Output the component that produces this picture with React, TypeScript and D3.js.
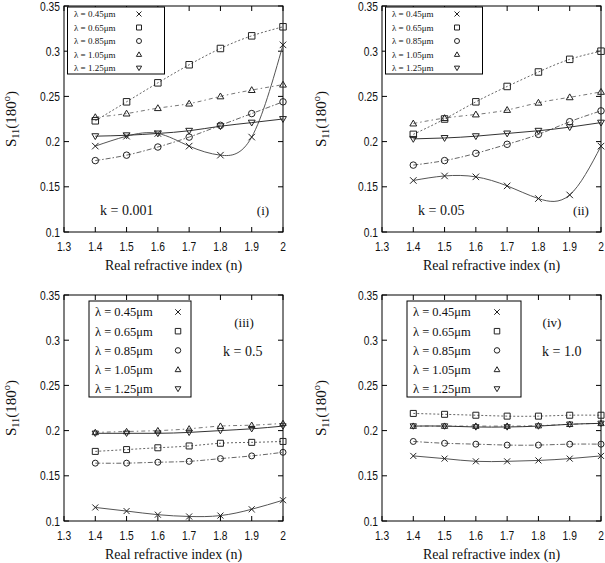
import React from "react";
import * as d3 from "d3";

// ---- data ----
const refractiveIndex = [1.4, 1.5, 1.6, 1.7, 1.8, 1.9, 2.0];
const wavelengthLabels = ["λ = 0.45μm", "λ = 0.65μm", "λ = 0.85μm", "λ = 1.05μm", "λ = 1.25μm"];
const xTickValues = [1.3, 1.4, 1.5, 1.6, 1.7, 1.8, 1.9, 2.0];
const yTickValues = [0.1, 0.15, 0.2, 0.25, 0.3, 0.35];
const kLabels = ["k = 0.001", "k = 0.05", "k = 0.5", "k = 1.0"];
const panelTags = ["(i)", "(ii)", "(iii)", "(iv)"];

// k = 0.001
const k0001_045 = [0.195, 0.206, 0.209, 0.195, 0.185, 0.205, 0.307];
const k0001_065 = [0.223, 0.244, 0.265, 0.285, 0.303, 0.317, 0.327];
const k0001_085 = [0.179, 0.185, 0.194, 0.205, 0.218, 0.231, 0.244];
const k0001_105 = [0.227, 0.231, 0.237, 0.242, 0.25, 0.257, 0.263];
const k0001_125 = [0.206, 0.207, 0.209, 0.212, 0.217, 0.221, 0.225];
// k = 0.05
const k005_045 = [0.157, 0.162, 0.161, 0.151, 0.137, 0.141, 0.195];
const k005_065 = [0.208, 0.225, 0.244, 0.261, 0.277, 0.291, 0.3];
const k005_085 = [0.174, 0.179, 0.187, 0.197, 0.208, 0.222, 0.234];
const k005_105 = [0.22, 0.226, 0.23, 0.235, 0.243, 0.249, 0.255];
const k005_125 = [0.203, 0.204, 0.206, 0.209, 0.212, 0.216, 0.221];
// k = 0.5
const k05_045 = [0.115, 0.111, 0.107, 0.105, 0.106, 0.113, 0.123];
const k05_065 = [0.177, 0.179, 0.181, 0.183, 0.186, 0.187, 0.188];
const k05_085 = [0.164, 0.164, 0.165, 0.166, 0.169, 0.172, 0.176];
const k05_105 = [0.198, 0.199, 0.2, 0.202, 0.205, 0.206, 0.208];
const k05_125 = [0.197, 0.197, 0.197, 0.198, 0.2, 0.202, 0.205];
// k = 1.0
const k10_045 = [0.172, 0.169, 0.166, 0.166, 0.167, 0.169, 0.172];
const k10_065 = [0.219, 0.218, 0.217, 0.216, 0.216, 0.217, 0.217];
const k10_085 = [0.188, 0.186, 0.185, 0.184, 0.184, 0.185, 0.185];
const k10_105 = [0.205, 0.205, 0.205, 0.205, 0.2055, 0.207, 0.208];
const k10_125 = [0.205, 0.205, 0.204, 0.204, 0.205, 0.207, 0.208];

const panelSeries = [
  [k0001_045, k0001_065, k0001_085, k0001_105, k0001_125],
  [k005_045, k005_065, k005_085, k005_105, k005_125],
  [k05_045, k05_065, k05_085, k05_105, k05_125],
  [k10_045, k10_065, k10_085, k10_105, k10_125],
];

// ---- styling / layout ----
const seriesStyle = [
  { marker: "cross", dash: undefined, stroke: "#555" },
  { marker: "square", dash: "2,2", stroke: "#666" },
  { marker: "circle", dash: "5,2,1.5,2", stroke: "#666" },
  { marker: "triUp", dash: "4,3,1.5,3", stroke: "#777" },
  { marker: "triDown", dash: undefined, stroke: "#333" },
];

const layouts = [
  { x0: 64, x1: 283, y0: 6, y1: 232, titleX: 16, small: true, legW: 97, legMx: 75,
    kx: 100, ky: 215, tagX: 263, tagY: 215 },
  { x0: 382, x1: 601, y0: 6, y1: 232, titleX: 326, small: true, legW: 97, legMx: 75,
    kx: 418, ky: 215, tagX: 581, tagY: 215 },
  { x0: 64, x1: 283, y0: 295, y1: 521, titleX: 16, small: false, legW: 102, legMx: 114,
    kx: 223, ky: 356, tagX: 244, tagY: 327 },
  { x0: 382, x1: 601, y0: 295, y1: 521, titleX: 326, small: false, legW: 114, legMx: 115,
    kx: 542, ky: 356, tagX: 552, tagY: 327 },
];

const serif = "'Liberation Serif', 'Times New Roman', serif";
const sans = "'Liberation Sans', Arial, sans-serif";

function markerPath(kind: string, s: number): string {
  const h = s / 2;
  switch (kind) {
    case "cross":
      return `M${-h},${-h}L${h},${h}M${-h},${h}L${h},${-h}`;
    case "square":
      return `M${-h},${-h}H${h}V${h}H${-h}Z`;
    case "circle":
      return `M${h},0A${h},${h} 0 1,1 ${-h},0A${h},${h} 0 1,1 ${h},0Z`;
    case "triUp":
      return `M0,${-h * 1.05}L${h * 1.05},${h * 0.75}L${-h * 1.05},${h * 0.75}Z`;
    case "triDown":
      return `M0,${h * 1.05}L${h * 1.05},${-h * 0.75}L${-h * 1.05},${-h * 0.75}Z`;
  }
  return "";
}

function Panel({ idx }: { idx: number }) {
  const L = layouts[idx];
  const series = panelSeries[idx];
  const x = d3.scaleLinear().domain([1.3, 2.0]).range([L.x0, L.x1]);
  const y = d3.scaleLinear().domain([0.1, 0.35]).range([L.y1, L.y0]);
  const line = d3
    .line<number>()
    .x((_, i) => x(refractiveIndex[i]))
    .y((d) => y(d))
    .curve(d3.curveNatural);
  const tick = 5;
  const ms = L.small ? 6.5 : 6;
  const legMs = L.small ? 5 : 5.5;
  const fmtY = d3.format("~g");
  const cy = (L.y0 + L.y1) / 2;
  const cx = (L.x0 + L.x1) / 2;

  const legTop = L.small ? L.y0 + 1 : L.y0 + 6;
  const legH = L.small ? 67 : 96;
  const legStep = L.small ? 13.5 : 19.2;
  const legFirst = L.small ? L.y0 + 8 : L.y0 + 17;
  const legX = L.small ? L.x0 + 3.5 : L.x0 + 25;
  const legTx = L.small ? L.x0 + 10 : L.x0 + 31;
  const legFont = L.small ? 9 : 12.5;

  return (
    <g>
      <rect x={L.x0} y={L.y0} width={L.x1 - L.x0} height={L.y1 - L.y0} fill="none" stroke="#000" strokeWidth={1} />
      {xTickValues.map((v) => (
        <g key={"xt" + v}>
          <line x1={x(v)} x2={x(v)} y1={L.y1} y2={L.y1 - tick} stroke="#000" />
          <line x1={x(v)} x2={x(v)} y1={L.y0} y2={L.y0 + tick} stroke="#000" />
          <g transform={`translate(${x(v)},${L.y1 + 18.5}) scale(0.82,1)`}>
            <text textAnchor="middle" fontFamily={sans} fontSize={12.5} fill="#111">
              {v === 2 ? "2" : v.toFixed(1)}
            </text>
          </g>
        </g>
      ))}
      {yTickValues.map((v) => (
        <g key={"yt" + v}>
          <line x1={L.x0} x2={L.x0 + tick} y1={y(v)} y2={y(v)} stroke="#000" />
          <line x1={L.x1} x2={L.x1 - tick} y1={y(v)} y2={y(v)} stroke="#000" />
          <g transform={`translate(${L.x0 - 4},${y(v) + 4.5}) scale(0.82,1)`}>
            <text textAnchor="end" fontFamily={sans} fontSize={12.5} fill="#111">
              {fmtY(v)}
            </text>
          </g>
        </g>
      ))}
      <text x={cx} y={L.y1 + 38} textAnchor="middle" fontFamily={serif} fontSize={14} fill="#111">
        Real refractive index (n)
      </text>
      <g transform={`translate(${L.titleX},${cy}) rotate(-90)`}>
        <text textAnchor="middle" fontFamily={serif} fontSize={15} fill="#111">
          <tspan>S</tspan>
          <tspan fontSize={10.5} dy={3}>11</tspan>
          <tspan dy={-3}>(180</tspan>
          <tspan fontSize={10.5} dy={-6}>o</tspan>
          <tspan dy={6}>)</tspan>
        </text>
      </g>
      {series.map((vals, s) => (
        <path
          key={"c" + s}
          d={line(vals) || ""}
          fill="none"
          stroke={seriesStyle[s].stroke}
          strokeWidth={1}
          strokeDasharray={seriesStyle[s].dash}
        />
      ))}
      {series.map((vals, s) =>
        vals.map((v, i) => (
          <path
            key={"m" + s + "_" + i}
            transform={`translate(${x(refractiveIndex[i])},${y(v)})`}
            d={markerPath(seriesStyle[s].marker, ms)}
            fill="none"
            stroke="#222"
            strokeWidth={1}
          />
        ))
      )}
      <text x={L.kx} y={L.ky} textAnchor="start" fontFamily={serif} fontSize={14} fill="#111">
        {kLabels[idx]}
      </text>
      <text x={L.tagX} y={L.tagY} textAnchor="middle" fontFamily={serif} fontSize={13} fill="#111">
        {panelTags[idx]}
      </text>
      <rect x={legX} y={legTop} width={L.legW} height={legH} fill="#fff" stroke="#000" strokeWidth={1} />
      {wavelengthLabels.map((lab, s) => {
        const ey = legFirst + s * legStep;
        return (
          <g key={"l" + s}>
            <text x={legTx} y={ey} dy="0.35em" fontFamily={serif} fontSize={legFont} fill="#111">
              {lab}
            </text>
            <path
              transform={`translate(${L.x0 + L.legMx},${ey})`}
              d={markerPath(seriesStyle[s].marker, legMs)}
              fill="none"
              stroke="#222"
              strokeWidth={1}
            />
          </g>
        );
      })}
    </g>
  );
}

export default function App() {
  return (
    <svg
      width={605}
      height={563}
      style={{ position: "absolute", left: 0, top: 0, background: "#fff" }}
    >
      <rect width={605} height={563} fill="#fff" />
      {layouts.map((_, i) => (
        <Panel key={i} idx={i} />
      ))}
    </svg>
  );
}
